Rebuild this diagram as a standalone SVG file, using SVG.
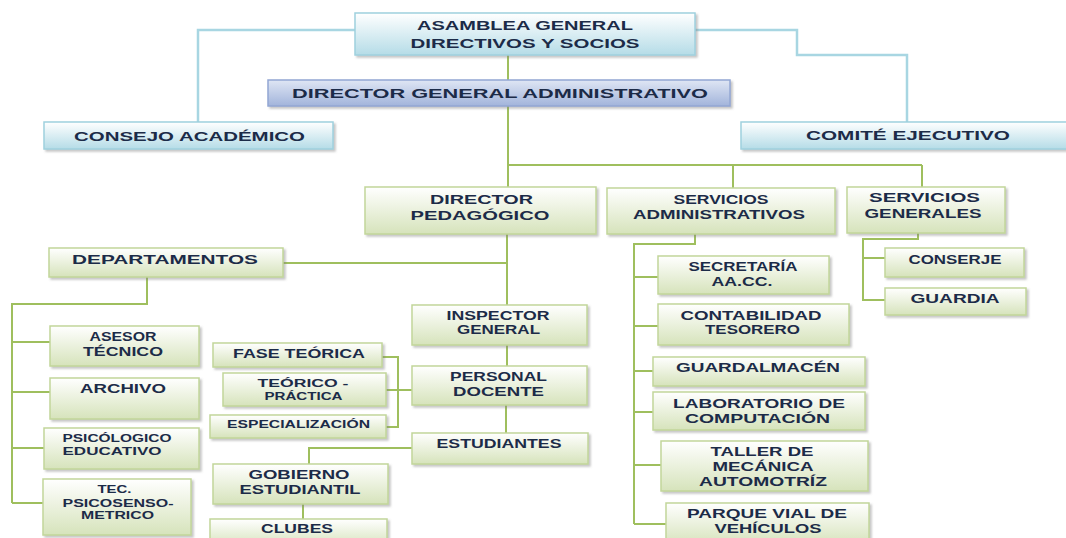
<svg xmlns="http://www.w3.org/2000/svg" width="1066" height="538" viewBox="0 0 1066 538">
<defs>
<linearGradient id="gG" x1="0" y1="0" x2="0" y2="1"><stop offset="0" stop-color="#ffffff"/><stop offset="1" stop-color="#d6e3bb"/></linearGradient>
<linearGradient id="gB" x1="0" y1="0" x2="0" y2="1"><stop offset="0" stop-color="#ffffff"/><stop offset="1" stop-color="#b5dce7"/></linearGradient>
<linearGradient id="gL" x1="0" y1="0" x2="0" y2="1"><stop offset="0" stop-color="#dfe6f4"/><stop offset="1" stop-color="#a2b4db"/></linearGradient>
<filter id="sh" x="-10%" y="-20%" width="130%" height="160%"><feDropShadow dx="2" dy="2" stdDeviation="1.2" flood-color="#7f7f7f" flood-opacity="0.45"/></filter>
<style>
.g{fill:url(#gG);stroke:#c2d69a;stroke-width:1.5;filter:url(#sh)}
.b{fill:url(#gB);stroke:#9fd1de;stroke-width:1.5;filter:url(#sh)}
.l{fill:url(#gL);stroke:#93a7d3;stroke-width:1.5;filter:url(#sh)}
text{font-family:"Liberation Sans",Arial,sans-serif;font-weight:bold;font-size:12px;fill:#1c2b48;text-anchor:middle}
text.s{font-size:10px}
.cg{fill:none;stroke:#9fbf5e;stroke-width:2}
.cb{fill:none;stroke:#a8d6e2;stroke-width:2.5}
</style>
</defs>
<g id="connectors">
<path class="cb" d="M355,30 H198 V122 M695,30 H797 V55 H907 V122"/>
<path class="cg" d="M508,55 V80 M508,106 V187 M508,165 H922 M733,165 V188 M922,165 V187"/>
<path class="cg" d="M507,234 V305 M507,263 H283 M147,277 V304 H12 V503 M12,342 H50 M12,392 H50 M12,448 H44 M12,503 H43"/>
<path class="cg" d="M507,345 V366 M506,405 V433 M412,390 H386 M382,357 H398 V427 H386 M412,448 H309 V464 M303,504 V519"/>
<path class="cg" d="M695,234 V244 H634 V524 M634,277 H658 M634,326 H658 M634,371 H653 M634,412 H653 M634,465 H661 M634,524 H666"/>
<path class="cg" d="M918,233 V239 H863 V300 H885 M863,258 H885"/>
</g>
<g id="asamblea"><rect class="b" x="355" y="13" width="340" height="42"/><text x="525" y="30" textLength="216" lengthAdjust="spacingAndGlyphs">ASAMBLEA GENERAL</text><text x="525" y="47.5" textLength="229" lengthAdjust="spacingAndGlyphs">DIRECTIVOS Y SOCIOS</text></g>
<g id="dga"><rect class="l" x="268" y="80" width="462" height="26"/><text x="500" y="98" textLength="416" lengthAdjust="spacingAndGlyphs">DIRECTOR GENERAL ADMINISTRATIVO</text></g>
<g id="consejo"><rect class="b" x="44" y="122" width="289" height="27"/><text x="189.5" y="141" textLength="231" lengthAdjust="spacingAndGlyphs">CONSEJO ACADÉMICO</text></g>
<g id="comite"><rect class="b" x="741" y="122" width="335" height="27"/><text x="908" y="140" textLength="204" lengthAdjust="spacingAndGlyphs">COMITÉ EJECUTIVO</text></g>
<g id="pedagogico"><rect class="g" x="365" y="187" width="231" height="47"/><text x="481.5" y="204" textLength="103" lengthAdjust="spacingAndGlyphs">DIRECTOR</text><text x="480" y="220" textLength="139" lengthAdjust="spacingAndGlyphs">PEDAGÓGICO</text></g>
<g id="serv-admin"><rect class="g" x="607" y="188" width="228" height="46"/><text x="721" y="203.5" textLength="95" lengthAdjust="spacingAndGlyphs">SERVICIOS</text><text x="719" y="219" textLength="172" lengthAdjust="spacingAndGlyphs">ADMINISTRATIVOS</text></g>
<g id="serv-gen"><rect class="g" x="847" y="187" width="158" height="46"/><text x="924.5" y="202" textLength="111" lengthAdjust="spacingAndGlyphs">SERVICIOS</text><text x="923" y="218" textLength="117" lengthAdjust="spacingAndGlyphs">GENERALES</text></g>
<g id="departamentos"><rect class="g" x="49" y="248" width="234" height="29"/><text x="165" y="264" textLength="186" lengthAdjust="spacingAndGlyphs">DEPARTAMENTOS</text></g>
<g id="asesor"><rect class="g" x="50" y="326" width="149" height="40"/><text x="123" y="341" textLength="67" lengthAdjust="spacingAndGlyphs">ASESOR</text><text x="123" y="356" textLength="80" lengthAdjust="spacingAndGlyphs">TÉCNICO</text></g>
<g id="archivo"><rect class="g" x="50" y="378" width="149" height="41"/><text x="123" y="393" textLength="86" lengthAdjust="spacingAndGlyphs">ARCHIVO</text></g>
<g id="psicologico"><rect class="g" x="44" y="428" width="155" height="41"/><text class="s" x="117" y="442" textLength="109" lengthAdjust="spacingAndGlyphs">PSICÓLOGICO</text><text class="s" x="112" y="454.5" textLength="99" lengthAdjust="spacingAndGlyphs">EDUCATIVO</text></g>
<g id="tec"><rect class="g" x="43" y="479" width="148" height="56"/><text class="s" x="114.5" y="493" textLength="34" lengthAdjust="spacingAndGlyphs">TEC.</text><text class="s" x="118" y="507" textLength="111" lengthAdjust="spacingAndGlyphs">PSICOSENSO-</text><text class="s" x="117.5" y="518.5" textLength="73" lengthAdjust="spacingAndGlyphs">METRICO</text></g>
<g id="fase"><rect class="g" x="213" y="343" width="169" height="24"/><text x="299" y="358" textLength="132" lengthAdjust="spacingAndGlyphs">FASE TEÓRICA</text></g>
<g id="teorico"><rect class="g" x="223" y="373" width="163" height="33"/><text class="s" x="303" y="387" textLength="91" lengthAdjust="spacingAndGlyphs">TEÓRICO -</text><text class="s" x="303.5" y="400" textLength="78" lengthAdjust="spacingAndGlyphs">PRÁCTICA</text></g>
<g id="especializacion"><rect class="g" x="210" y="415" width="176" height="23"/><text class="s" x="298.5" y="428" textLength="143" lengthAdjust="spacingAndGlyphs">ESPECIALIZACIÓN</text></g>
<g id="inspector"><rect class="g" x="412" y="305" width="175" height="40"/><text x="498" y="320" textLength="103" lengthAdjust="spacingAndGlyphs">INSPECTOR</text><text x="498.5" y="334" textLength="83" lengthAdjust="spacingAndGlyphs">GENERAL</text></g>
<g id="personal"><rect class="g" x="412" y="366" width="175" height="39"/><text x="498.5" y="381" textLength="97" lengthAdjust="spacingAndGlyphs">PERSONAL</text><text x="498.5" y="396" textLength="91" lengthAdjust="spacingAndGlyphs">DOCENTE</text></g>
<g id="estudiantes"><rect class="g" x="412" y="433" width="176" height="31"/><text x="499" y="448" textLength="125" lengthAdjust="spacingAndGlyphs">ESTUDIANTES</text></g>
<g id="gobierno"><rect class="g" x="213" y="464" width="175" height="40"/><text x="299" y="479" textLength="101" lengthAdjust="spacingAndGlyphs">GOBIERNO</text><text x="300" y="494" textLength="121" lengthAdjust="spacingAndGlyphs">ESTUDIANTIL</text></g>
<g id="clubes"><rect class="g" x="210" y="519" width="177" height="28"/><text x="297" y="533" textLength="72" lengthAdjust="spacingAndGlyphs">CLUBES</text></g>
<g id="secretaria"><rect class="g" x="658" y="256" width="171" height="38"/><text x="743" y="271" textLength="109" lengthAdjust="spacingAndGlyphs">SECRETARÍA</text><text x="742" y="286" textLength="61" lengthAdjust="spacingAndGlyphs">AA.CC.</text></g>
<g id="contabilidad"><rect class="g" x="658" y="304" width="191" height="41"/><text x="751" y="320" textLength="141" lengthAdjust="spacingAndGlyphs">CONTABILIDAD</text><text x="752.5" y="334" textLength="95" lengthAdjust="spacingAndGlyphs">TESORERO</text></g>
<g id="guardalmacen"><rect class="g" x="653" y="357" width="212" height="29"/><text x="758" y="372" textLength="164" lengthAdjust="spacingAndGlyphs">GUARDALMACÉN</text></g>
<g id="laboratorio"><rect class="g" x="653" y="392" width="212" height="38"/><text x="759" y="408" textLength="172" lengthAdjust="spacingAndGlyphs">LABORATORIO DE</text><text x="757.5" y="423" textLength="145" lengthAdjust="spacingAndGlyphs">COMPUTACIÓN</text></g>
<g id="taller"><rect class="g" x="661" y="441" width="207" height="50"/><text x="762" y="456" textLength="103" lengthAdjust="spacingAndGlyphs">TALLER DE</text><text x="763" y="471" textLength="101" lengthAdjust="spacingAndGlyphs">MECÁNICA</text><text x="763" y="486" textLength="128" lengthAdjust="spacingAndGlyphs">AUTOMOTRÍZ</text></g>
<g id="parque"><rect class="g" x="666" y="503" width="203" height="42"/><text x="767" y="518" textLength="160" lengthAdjust="spacingAndGlyphs">PARQUE VIAL DE</text><text x="768" y="533" textLength="107" lengthAdjust="spacingAndGlyphs">VEHÍCULOS</text></g>
<g id="conserje"><rect class="g" x="885" y="248" width="139" height="29"/><text x="955" y="264" textLength="93" lengthAdjust="spacingAndGlyphs">CONSERJE</text></g>
<g id="guardia"><rect class="g" x="885" y="288" width="141" height="27"/><text x="955" y="303" textLength="89" lengthAdjust="spacingAndGlyphs">GUARDIA</text></g>
</svg>
